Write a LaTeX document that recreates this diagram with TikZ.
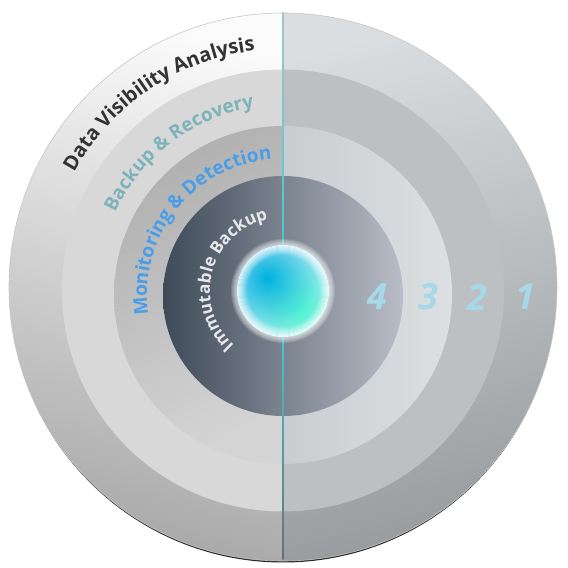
\documentclass[tikz,border=0pt]{standalone}
\usepackage{fontspec}
\setmainfont{Open Sans}
\usetikzlibrary{decorations.text,fadings}

\newlength{\du}
\setlength{\du}{1pt}

\definecolor{ringonetop}{rgb}{0.984000, 0.984000, 0.984000}
\definecolor{ringonebot}{rgb}{0.659000, 0.659000, 0.659000}
\definecolor{ringonertop}{rgb}{0.855000, 0.871000, 0.882000}
\definecolor{ringonerbot}{rgb}{0.592000, 0.608000, 0.620000}
\definecolor{ringtwoleft}{rgb}{0.847000, 0.847000, 0.847000}
\definecolor{ringtworight}{rgb}{0.737000, 0.753000, 0.765000}
\definecolor{ringthreetop}{rgb}{0.690000, 0.690000, 0.690000}
\definecolor{ringthreebot}{rgb}{0.831000, 0.831000, 0.831000}
\definecolor{ringthreerl}{rgb}{0.788000, 0.804000, 0.816000}
\definecolor{ringthreerr}{rgb}{0.867000, 0.878000, 0.890000}
\definecolor{corefar}{rgb}{0.239000, 0.290000, 0.341000}
\definecolor{corenear}{rgb}{0.725000, 0.741000, 0.780000}
\definecolor{spherecyan}{rgb}{0.000000, 0.700000, 0.870000}
\definecolor{spherepale}{rgb}{0.680000, 0.870000, 0.960000}
\definecolor{spheremint}{rgb}{0.330000, 0.960000, 0.820000}
\definecolor{axistop}{rgb}{0.659000, 0.769000, 0.776000}
\definecolor{axismid}{rgb}{0.235000, 0.800000, 0.831000}
\definecolor{axisbot}{rgb}{0.416000, 0.439000, 0.439000}
\definecolor{labeldark}{rgb}{0.200000, 0.200000, 0.200000}
\definecolor{labelteal}{rgb}{0.490000, 0.702000, 0.725000}
\definecolor{labelblue}{rgb}{0.290000, 0.616000, 0.910000}
\definecolor{labelpale}{rgb}{0.902000, 0.910000, 0.918000}
\definecolor{labelnum}{rgb}{0.651000, 0.851000, 0.910000}

\tikzfading[name=softblob, inner color=transparent!0, outer color=transparent!100]

\tikzset{
  ringlabel/.style={decorate, decoration={text along path, text align=center, text color=#1}},
  numlabel/.style={text=labelnum, inner sep=0pt, font=\fontsize{36}{36}\selectfont\bfseries\itshape}
}

\begin{document}
\begin{tikzpicture}
\useasboundingbox (0\du,0\du) rectangle (568\du,568\du);
\coordinate (c1) at (283\du,281\du);
\coordinate (c2) at (283\du,277.5\du);
\coordinate (c3) at (283\du,273\du);
\coordinate (c4) at (283\du,272\du);
\coordinate (c0) at (283\du,277\du);
% shadow under the dial
\fill[black!85] ([yshift=-2.5\du]c1) circle (273\du);
% ring 1
\begin{scope}
\clip (c1) circle (274\du);
\shade[top color=ringonetop, bottom color=ringonebot, shading angle=-15] (0\du,0\du) rectangle (283\du,568\du);
\shade[top color=ringonertop, bottom color=ringonerbot, shading angle=15] (283\du,0\du) rectangle (568\du,568\du);
\end{scope}
\draw[gray!45, line width=0.6\du] (c1) circle (274\du);
% ring 2
\begin{scope}
\clip (c2) circle (221\du);
\fill[ringtwoleft] (0\du,0\du) rectangle (283\du,568\du);
\fill[ringtworight] (283\du,0\du) rectangle (568\du,568\du);
\end{scope}
% ring 3
\begin{scope}
\clip (c3) circle (169\du);
\shade[top color=ringthreetop, bottom color=ringthreebot, shading angle=30] (114\du,104\du) rectangle (283\du,442\du);
\shade[left color=ringthreerl, right color=ringthreerr] (283\du,104\du) rectangle (452\du,442\du);
\end{scope}
% ring 4
\shade[left color=corefar, right color=corenear] (c4) circle (120\du);
% axis line
\shade[top color=axistop, bottom color=axismid] (282.4\du,323\du) rectangle (283.6\du,555\du);
\shade[top color=axismid, bottom color=axisbot] (282.4\du,8\du) rectangle (283.6\du,231\du);
% sphere
\foreach \g in {1,...,7}
  \fill[white, opacity=0.14] (c0) circle[radius=(45+\g)*\du];
\begin{scope}
\clip (c0) circle (46\du);
\fill[spherepale] (c0) circle (46\du);
\fill[spheremint, path fading=softblob] ([shift={(17\du,-18\du)}]c0) circle (64\du);
\fill[spherecyan, path fading=softblob] ([shift={(-16\du,13\du)}]c0) circle (50\du);
\end{scope}
\foreach \k in {0,...,9}
  \draw[white, opacity={0.8-0.08*\k}, line width=1\du] (c0) circle[radius=(45.5-\k)*\du];
% ring labels
\path[ringlabel=labeldark, decoration={text={|\fontsize{20}{20}\selectfont\bfseries|Data Visibility Analysis}}]
  ([shift={(191:238\du)}]c1) arc[start angle=191, end angle=57, radius=238\du];
\path[ringlabel=labelteal, decoration={text={|\fontsize{19}{19}\selectfont\bfseries|Backup {\&} Recovery}}]
  ([shift={(197:185\du)}]c2) arc[start angle=197, end angle=57, radius=185\du];
\path[ringlabel=labelblue, decoration={text={|\fontsize{19}{19}\selectfont\bfseries|Monitoring {\&} Detection}}]
  ([shift={(230:136\du)}]c3) arc[start angle=230, end angle=53, radius=136\du];
\path[ringlabel=labelpale, decoration={text={|\fontsize{17}{17}\selectfont\bfseries|Immutable Backup}}]
  ([shift={(253:73\du)}]c0) arc[start angle=253, end angle=77, radius=73\du];
% ring numbers
\node[numlabel] (n4) at (377\du,271\du) {4};
\node[numlabel] (n3) at (428\du,271\du) {3};
\node[numlabel] (n2) at (477\du,271\du) {2};
\node[numlabel] (n1) at (525\du,271\du) {1};
\end{tikzpicture}
\end{document}
